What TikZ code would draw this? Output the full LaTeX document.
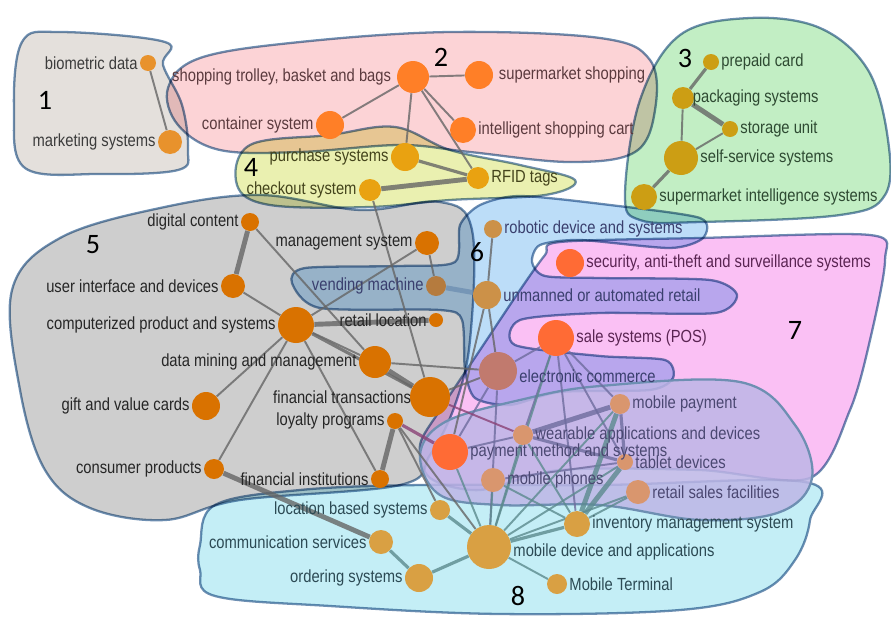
\documentclass[tikz,border=0pt]{standalone}
\usepackage{fontspec}
\setmainfont[FakeStretch=0.84]{Liberation Sans}
\newfontfamily\numfont{Carlito}
\usetikzlibrary{positioning}

% cluster colours
\definecolor{hullline}{HTML}{6E8FB2}
\definecolor{fillA}{HTML}{E4E0DC}
\definecolor{fillB}{HTML}{FCD3D6}
\definecolor{fillC}{HTML}{C2EEC4}
\definecolor{fillD}{HTML}{EAF0B0}
\definecolor{fillE}{HTML}{CECECE}
\definecolor{fillF}{HTML}{BCDDF8}
\definecolor{fillG}{HTML}{FAC0F4}
\definecolor{fillH}{HTML}{BDB6E6}
\definecolor{fillI}{HTML}{C4EEF6}
% node colours
\definecolor{nodeA}{HTML}{E8922C}
\definecolor{nodeB}{HTML}{FF7F27}
\definecolor{nodeC}{HTML}{CC9E14}
\definecolor{nodeD}{HTML}{E9A211}
\definecolor{nodeE}{HTML}{D97200}
\definecolor{nodeV}{HTML}{B57B3E}
\definecolor{nodeF}{HTML}{CC9148}
\definecolor{nodeR}{HTML}{C17A6E}
\definecolor{nodeG}{HTML}{FF6B35}
\definecolor{nodeH}{HTML}{D9966E}
\definecolor{nodeI}{HTML}{D9A043}
% text and link colours
\definecolor{txtA}{HTML}{3C3C3C}
\definecolor{txtB}{HTML}{5B3A3E}
\definecolor{txtC}{HTML}{2E4A32}
\definecolor{txtD}{HTML}{44441C}
\definecolor{txtE}{HTML}{262626}
\definecolor{txtF}{HTML}{3A3F6E}
\definecolor{txtG}{HTML}{5A2452}
\definecolor{txtH}{HTML}{4B4872}
\definecolor{txtI}{HTML}{2C4A54}
\definecolor{linkgray}{HTML}{666666}
\definecolor{linkslate}{HTML}{6E6C9E}
\definecolor{linkteal}{HTML}{5C8A8E}
\definecolor{linkplum}{HTML}{8A4276}

\pgfdeclarelayer{hulls}
\pgfdeclarelayer{links}
\pgfsetlayers{hulls,links,main}

\tikzset{
  hull/.style={draw=hullline, line width=1.3pt, fill=#1},
  link/.style={draw=linkgray, line width=1.1pt, draw opacity=0.8},
  midlink/.style={link, line width=1.8pt},
  heavylink/.style={link, line width=2.8pt},
  dot/.style={circle, fill=#1, inner sep=0pt, draw=none},
  rad/.style={minimum size=#1*0.04cm},
  lbl/.style={inner sep=1pt, font=\fontsize{10}{11}\selectfont, text=#1},
  grp/.style={inner sep=0pt, font=\numfont\fontsize{16}{18}\selectfont, text=black},
}

\begin{document}
\begin{tikzpicture}[x=0.02cm, y=-0.02cm]
  \useasboundingbox (0,0) rectangle (891,616);

  % Draw the clusters
  \begin{pgfonlayer}{hulls}
  \begin{scope}[blend mode=multiply]
    \draw[hull=fillA] plot[smooth cycle, tension=0.6] coordinates {(22,42) (60,32) (165,42) (163,65) (182,105) (188,150) (178,170) (100,174) (25,168) (14,110)};
    \draw[hull=fillB] plot[smooth cycle, tension=0.6] coordinates {(168,88) (200,58) (300,42) (450,32) (600,38) (650,60) (655,110) (635,152) (570,162) (470,152) (400,145) (300,152) (220,150) (178,125)};
    \draw[hull=fillC] plot[smooth cycle, tension=0.6] coordinates {(625,195) (640,100) (680,35) (750,18) (820,28) (868,70) (888,140) (885,195) (840,215) (700,222) (640,220)};
    \draw[hull=fillD] plot[smooth cycle, tension=0.6] coordinates {(237,185) (250,145) (330,135) (395,127) (450,150) (520,165) (575,180) (545,195) (450,200) (370,207) (270,205)};
    \draw[hull=fillE] plot[smooth cycle, tension=0.6] coordinates {(12,290) (60,238) (160,208) (260,195) (360,210) (440,202) (472,230) (470,340) (455,405) (430,455) (400,485) (240,500) (165,520) (90,508) (45,470) (20,390)};
    \draw[hull=fillG] plot[smooth cycle, tension=0.5] coordinates {(560,242) (700,238) (870,235) (885,260) (870,340) (850,410) (810,478) (700,470) (560,470) (480,490) (430,478) (420,445) (440,410) (480,350) (520,290) (545,255)};
    \draw[hull=fillF] plot[smooth cycle, tension=0.45] coordinates {(292,283) (305,268) (400,266) (455,262) (460,225) (480,205) (520,196) (610,205) (700,218) (703,238) (670,248) (580,240) (540,245) (532,262) (545,276) (600,278) (710,280) (737,295) (715,313) (600,313) (520,320) (515,345) (600,356) (665,360) (673,378) (650,390) (560,392) (510,405) (475,398) (465,370) (462,320) (440,310) (320,308)};
    \draw[hull=fillI] plot[smooth cycle, tension=0.6] coordinates {(200,545) (215,505) (300,490) (420,485) (600,485) (805,482) (810,520) (795,560) (760,592) (680,610) (500,614) (330,606) (215,596) (200,570)};
  \end{scope}
  \draw[hull=fillH, fill opacity=0.85] plot[smooth cycle, tension=0.6] coordinates {(420,455) (445,422) (520,400) (600,386) (740,382) (795,425) (812,478) (780,512) (700,520) (600,505) (500,505) (440,495)};
  \end{pgfonlayer}

  % Draw the topics
  \node[dot=nodeA, rad=8] (bio) at (148,63) {};
  \node[dot=nodeA, rad=12] (mkt) at (170,142) {};

  \node[dot=nodeB, rad=16] (trolley) at (413,77) {};
  \node[dot=nodeB, rad=14] (smshop) at (479,75) {};
  \node[dot=nodeB, rad=14] (container) at (330,125) {};
  \node[dot=nodeB, rad=13] (icart) at (463,130) {};

  \node[dot=nodeC, rad=8] (prepaid) at (711,62) {};
  \node[dot=nodeC, rad=11] (packaging) at (683,98) {};
  \node[dot=nodeC, rad=8] (storage) at (730,129) {};
  \node[dot=nodeC, rad=17] (selfserv) at (681,158) {};
  \node[dot=nodeC, rad=13] (smintel) at (644,197) {};

  \node[dot=nodeD, rad=14] (purchase) at (405,157) {};
  \node[dot=nodeD, rad=11] (checkout) at (370,190) {};
  \node[dot=nodeD, rad=11] (rfid) at (478,178) {};

  \node[dot=nodeE, rad=9] (digital) at (250,222) {};
  \node[dot=nodeE, rad=12] (mgmt) at (427,243) {};
  \node[dot=nodeE, rad=12] (userif) at (233,286) {};
  \node[dot=nodeV, rad=10] (vending) at (436,286) {};
  \node[dot=nodeE, rad=18] (comp) at (296,325) {};
  \node[dot=nodeE, rad=7] (retailloc) at (436,320) {};
  \node[dot=nodeE, rad=16] (datamining) at (375,362) {};
  \node[dot=nodeE, rad=20] (fintrans) at (430,397) {};
  \node[dot=nodeE, rad=14] (gift) at (206,406) {};
  \node[dot=nodeE, rad=8] (loyalty) at (395,421) {};
  \node[dot=nodeE, rad=10] (consumer) at (214,469) {};
  \node[dot=nodeE, rad=9] (fininst) at (380,479) {};

  \node[dot=nodeF, rad=9] (robotic) at (493,229) {};
  \node[dot=nodeF, rad=14] (unmanned) at (487,295) {};
  \node[dot=nodeR, rad=19] (ecom) at (498,371) {};

  \node[dot=nodeG, rad=14] (security) at (570,263) {};
  \node[dot=nodeG, rad=18] (pos) at (556,338) {};
  \node[dot=nodeG, rad=18] (payment) at (450,452) {};

  \node[dot=nodeH, rad=10] (mobpay) at (620,404) {};
  \node[dot=nodeH, rad=10] (wearable) at (523,435) {};
  \node[dot=nodeH, rad=8] (tablet) at (625,462) {};
  \node[dot=nodeH, rad=12] (mobphone) at (493,480) {};
  \node[dot=nodeH, rad=12] (retailsales) at (638,492) {};

  \node[dot=nodeI, rad=10] (locbased) at (440,510) {};
  \node[dot=nodeI, rad=12] (comm) at (381,542) {};
  \node[dot=nodeI, rad=14] (ordering) at (419,578) {};
  \node[dot=nodeI, rad=22] (mobdev) at (489,547) {};
  \node[dot=nodeI, rad=13] (inventory) at (577,524) {};
  \node[dot=nodeI, rad=10] (terminal) at (557,584) {};

  % Draw the links
  \begin{pgfonlayer}{links}
  \foreach \a/\b in {bio/mkt, trolley/smshop, trolley/container, trolley/icart, trolley/purchase,
      trolley/rfid, packaging/selfserv, storage/selfserv, checkout/fintrans, digital/datamining,
      userif/comp, comp/mgmt, comp/datamining, comp/gift, comp/consumer, comp/fininst, mgmt/vending,
      loyalty/locbased, loyalty/mobdev, datamining/ecom, fintrans/ecom, robotic/unmanned,
      unmanned/ecom, unmanned/payment}
    \draw[link] (\a) -- (\b);
  \foreach \a/\b in {prepaid/packaging, selfserv/smintel, purchase/rfid, comp/fintrans}
    \draw[midlink] (\a) -- (\b);
  \foreach \a/\b in {packaging/storage, checkout/rfid, digital/userif, comp/retailloc,
      datamining/fintrans, loyalty/fininst, consumer/comm}
    \draw[heavylink] (\a) -- (\b);
  \draw[heavylink, draw=hullline] (vending) -- (unmanned);
  \foreach \a/\b in {ecom/pos, ecom/payment, ecom/mobdev, pos/wearable, pos/inventory, pos/tablet,
      pos/mobpay, payment/wearable, mobphone/tablet}
    \draw[link, draw=linkslate] (\a) -- (\b);
  \draw[midlink, draw=linkslate] (wearable) -- (tablet);
  \draw[midlink, draw=linkslate] (mobpay) -- (tablet);
  \draw[heavylink, draw=linkslate] (wearable) -- (mobpay);
  \draw[link, draw=linkplum] (fintrans) -- (wearable);
  \draw[midlink, draw=linkplum] (loyalty) -- (payment);
  \foreach \a/\b in {mobdev/terminal, mobdev/mobphone, mobdev/wearable, mobdev/mobpay, mobdev/tablet,
      mobdev/retailsales, mobdev/pos, payment/mobdev, inventory/retailsales, inventory/wearable,
      inventory/mobphone}
    \draw[link, draw=linkteal] (\a) -- (\b);
  \foreach \a/\b in {comm/ordering, ordering/mobdev, locbased/mobdev, mobdev/inventory}
    \draw[midlink, draw=linkteal] (\a) -- (\b);
  \foreach \a/\b in {inventory/mobpay, inventory/tablet}
    \draw[heavylink, draw=linkteal] (\a) -- (\b);
  \end{pgfonlayer}

  % Draw the labels
  \node[lbl=txtA, left=0pt of bio] (bioL) {biometric data};
  \node[lbl=txtA, left=0pt of mkt] (mktL) {marketing systems};

  \node[lbl=txtB, left=2pt of trolley] (trolleyL) {shopping trolley, basket and bags};
  \node[lbl=txtB, right=2pt of smshop] (smshopL) {supermarket shopping};
  \node[lbl=txtB, left=0pt of container] (containerL) {container system};
  \node[lbl=txtB, right=0pt of icart] (icartL) {intelligent shopping cart};

  \node[lbl=txtC, right=0pt of prepaid] (prepaidL) {prepaid card};
  \node[lbl=txtC, right=-2pt of packaging] (packagingL) {packaging systems};
  \node[lbl=txtC, right=0pt of storage] (storageL) {storage unit};
  \node[lbl=txtC, right=0pt of selfserv] (selfservL) {self-service systems};
  \node[lbl=txtC, right=0pt of smintel] (smintelL) {supermarket intelligence systems};

  \node[lbl=txtD, left=0pt of purchase] (purchaseL) {purchase systems};
  \node[lbl=txtD, left=0pt of checkout] (checkoutL) {checkout system};
  \node[lbl=txtD, right=0pt of rfid] (rfidL) {RFID tags};

  \node[lbl=txtE, left=0pt of digital] (digitalL) {digital content};
  \node[lbl=txtE, left=0pt of mgmt] (mgmtL) {management system};
  \node[lbl=txtE, left=0pt of userif] (userifL) {user interface and devices};
  \node[lbl=txtF, left=0pt of vending] (vendingL) {vending machine};
  \node[lbl=txtE, left=0pt of comp] (compL) {computerized product and systems};
  \node[lbl=txtE, left=0pt of retailloc] (retaillocL) {retail location};
  \node[lbl=txtE, left=0pt of datamining] (dataminingL) {data mining and management};
  \node[lbl=txtE, left=-2pt of fintrans] (fintransL) {financial transactions};
  \node[lbl=txtE, left=0pt of gift] (giftL) {gift and value cards};
  \node[lbl=txtE, left=0pt of loyalty] (loyaltyL) {loyalty programs};
  \node[lbl=txtE, left=0pt of consumer] (consumerL) {consumer products};
  \node[lbl=txtE, left=0pt of fininst] (fininstL) {financial institutions};

  \node[lbl=txtF, right=0pt of robotic] (roboticL) {robotic device and systems};
  \node[lbl=txtF, right=0pt of unmanned] (unmannedL) {unmanned or automated retail};
  \node[lbl=txtF, right=0pt of ecom, yshift=-3pt] (ecomL) {electronic commerce};

  \node[lbl=txtG, right=0pt of security] (securityL) {security, anti-theft and surveillance systems};
  \node[lbl=txtG, right=0pt of pos] (posL) {sale systems (POS)};
  \node[lbl=txtH, right=0pt of payment] (paymentL) {payment method and systems};

  \node[lbl=txtH, right=0pt of mobpay] (mobpayL) {mobile payment};
  \node[lbl=txtH, right=0pt of wearable] (wearableL) {wearable applications and devices};
  \node[lbl=txtH, right=0pt of tablet] (tabletL) {tablet devices};
  \node[lbl=txtH, right=0pt of mobphone] (mobphoneL) {mobile phones};
  \node[lbl=txtH, right=0pt of retailsales] (retailsalesL) {retail sales facilities};

  \node[lbl=txtI, left=0pt of locbased] (locbasedL) {location based systems};
  \node[lbl=txtI, left=0pt of comm] (commL) {communication services};
  \node[lbl=txtI, left=0pt of ordering] (orderingL) {ordering systems};
  \node[lbl=txtI, right=0pt of mobdev, yshift=-3pt] (mobdevL) {mobile device and applications};
  \node[lbl=txtI, right=0pt of inventory] (inventoryL) {inventory management system};
  \node[lbl=txtI, right=0pt of terminal] (terminalL) {Mobile Terminal};

  % Draw the cluster numbers
  \node[grp] (g1) at (45,100) {1};
  \node[grp] (g2) at (441,57) {2};
  \node[grp] (g3) at (685,58) {3};
  \node[grp] (g4) at (251,167) {4};
  \node[grp] (g5) at (93,245) {5};
  \node[grp] (g6) at (477,252) {6};
  \node[grp] (g7) at (795,330) {7};
  \node[grp] (g8) at (518,596) {8};

\end{tikzpicture}
\end{document}
